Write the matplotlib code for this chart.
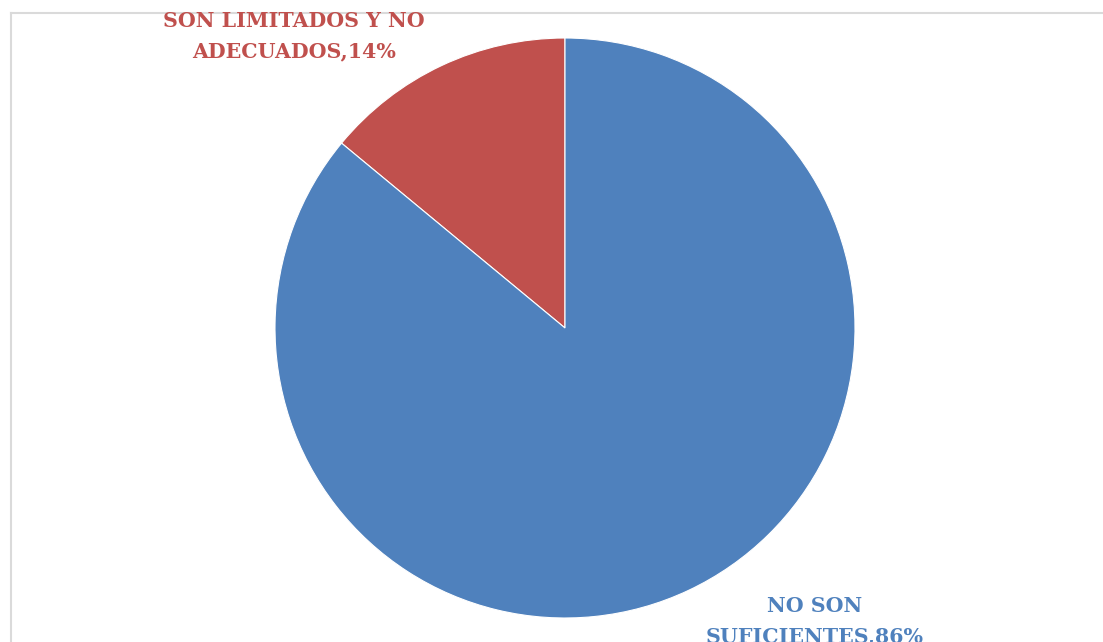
import matplotlib.pyplot as plt
from matplotlib.lines import Line2D

categories = ["NO SON SUFICIENTES", "SON LIMITADOS Y NO ADECUADOS"]
values = [86, 14]
colors = ["#4F81BD", "#C0504D"]

W, H = 1103, 642
fig = plt.figure(figsize=(W / 100, H / 100), dpi=100)

# chart-area frame (light gray): only the top and left edges fall inside the figure
frame = dict(transform=fig.transFigure, color="#DADADA", linewidth=1.5)
fig.lines.append(Line2D([10.5 / W, 1.0], [1 - 12.5 / H] * 2, **frame))
fig.lines.append(Line2D([10.5 / W] * 2, [0.0, 1 - 12.5 / H], **frame))

cx, cy, r = 565, 328, 290
ax = fig.add_axes([(cx - r) / W, (H - cy - r) / H, 2 * r / W, 2 * r / H])
# second category sits just counterclockwise of 12 o'clock
ax.pie(values[::-1], colors=colors[::-1], startangle=90, counterclock=True,
       wedgeprops=dict(edgecolor="white", linewidth=0.8))
ax.set_xlim(-1, 1)
ax.set_ylim(-1, 1)
ax.set_aspect("equal")
ax.axis("off")

font = dict(family="DejaVu Serif", fontweight="bold", fontsize=14.8,
            ha="center", va="center", linespacing=1.62)
fig.text(294 / W, 1 - 36 / H, "SON LIMITADOS Y NO\nADECUADOS,%d%%" % values[1],
         color=colors[1], **font)
fig.text(815 / W, 1 - 621 / H, "NO SON\nSUFICIENTES,%d%%" % values[0],
         color=colors[0], **font)

fig.savefig("out.png", dpi=100)
